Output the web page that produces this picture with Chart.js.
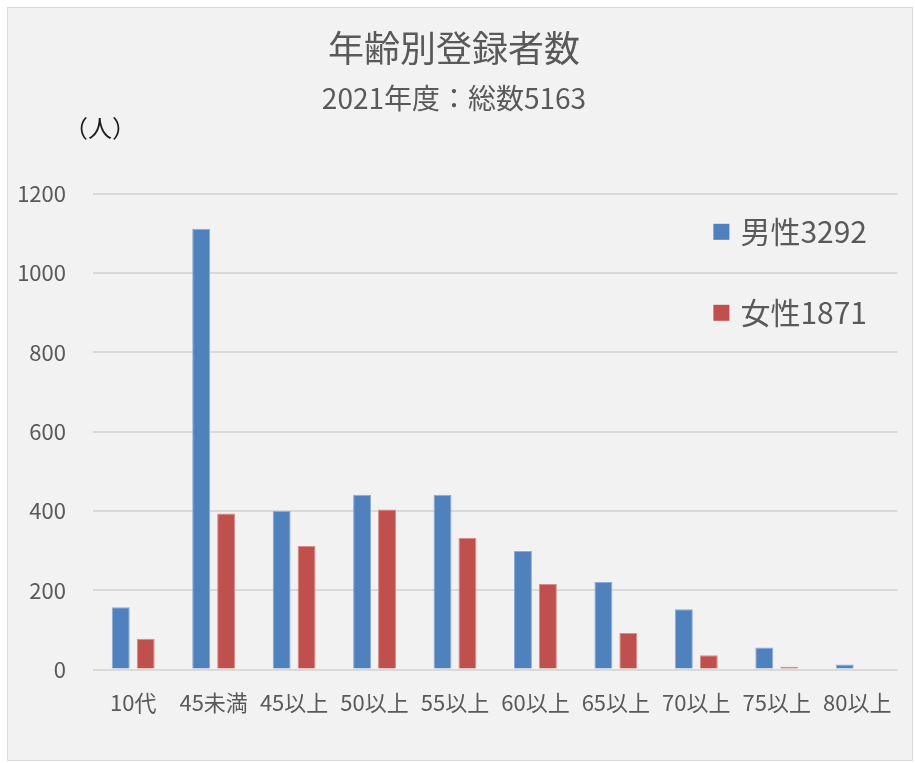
<!DOCTYPE html>
<html lang="ja">
<head>
<meta charset="utf-8">
<title>年齢別登録者数</title>
<script src="https://cdn.jsdelivr.net/npm/chart.js@4.4.1/dist/chart.umd.min.js"></script>
<style>
  html, body { margin: 0; padding: 0; background: #fff; }
  #box {
    position: absolute; left: 7px; top: 7px;
    width: 904px; height: 752px;
    background: #f2f2f2; border: 1px solid #d9d9d9;
  }
  #box canvas { display: block; }
</style>
</head>
<body>
<div id="box"><canvas id="bar" width="904" height="752"></canvas></div>
<script>
"use strict";
// data
var ageGroups = ["10代", "45未満", "45以上", "50以上", "55以上", "60以上", "65以上", "70以上", "75以上", "80以上"];
var maleCounts = [157, 1112, 400, 441, 441, 299, 221, 152, 56, 13];
var femaleCounts = [78, 394, 312, 404, 332, 216, 92, 36, 7, 0];
var seriesNames = ["男性3292", "女性1871"];
var yTicks = [0, 200, 400, 600, 800, 1000, 1200];
var titleText = "年齢別登録者数";
var subtitleText = "2021年度：総数5163";
var unitText = "（人）";

var FONT = '"Noto Sans CJK JP", "Noto Sans", sans-serif';
var GREY = "#595959";

// legend drawn inside plot area, like the original
var innerLegend = {
    id: "innerLegend",
    afterDraw: function (chart) {
        var ctx = chart.ctx, area = chart.chartArea;
        var x = area.right - 184;
        var rows = [area.top + 38, area.top + 119];
        ctx.save();
        ctx.font = "30px " + FONT;
        ctx.textBaseline = "middle";
        ctx.textAlign = "left";
        chart.data.datasets.forEach(function (ds, i) {
            var y = rows[i];
            ctx.fillStyle = ds.backgroundColor;
            ctx.fillRect(x, y - 8, 16, 16);
            ctx.fillStyle = GREY;
            ctx.fillText(ds.label, x + 27, y);
        });
        // unit label above the y axis
        ctx.font = "24px " + FONT;
        ctx.fillStyle = "#1a1a1a";
        ctx.fillText(unitText, 56, 120);
        ctx.restore();
    }
};

var isbarchart = document.getElementById("bar");
var barChart = new Chart(isbarchart, {
    type: "bar",
    data: {
        labels: ageGroups,
        datasets: [{
            label: seriesNames[0],
            data: maleCounts,
            backgroundColor: "#4f81bd",
            borderColor: "#8eaad6",
            borderWidth: 1,
            categoryPercentage: 0.62,
            barPercentage: 0.72
        }, {
            label: seriesNames[1],
            data: femaleCounts,
            backgroundColor: "#c0504d",
            borderColor: "#d98c8a",
            borderWidth: 1,
            categoryPercentage: 0.62,
            barPercentage: 0.72
        }]
    },
    options: {
        responsive: false,
        animation: false,
        layout: { padding: { left: 0, right: 12, top: 0, bottom: 24 } },
        plugins: {
            legend: { display: false },
            tooltip: { enabled: false },
            title: {
                display: true,
                text: titleText,
                color: GREY,
                font: { family: FONT, size: 36, weight: "normal" },
                padding: { top: 19, bottom: 11 }
            },
            subtitle: {
                display: true,
                text: subtitleText,
                color: GREY,
                font: { family: FONT, size: 28, weight: "normal" },
                padding: { top: 0, bottom: 79 }
            }
        },
        scales: {
            x: {
                grid: { display: false, drawTicks: false },
                border: { display: false },
                ticks: {
                    color: GREY,
                    font: { family: FONT, size: 22 },
                    padding: 20,
                    maxRotation: 0,
                    autoSkip: false
                }
            },
            y: {
                min: 0,
                max: 1200,
                afterFit: function (s) { s.width = 85; },
                afterBuildTicks: function (s) {
                    s.ticks = yTicks.map(function (v) { return { value: v }; });
                },
                grid: { color: "#d9d9d9", lineWidth: 2, drawTicks: false },
                border: { display: false },
                ticks: {
                    color: GREY,
                    font: { family: FONT, size: 22 },
                    padding: 27,
                    callback: function (v) { return String(v); }
                }
            }
        }
    },
    plugins: [innerLegend]
});
</script>
</body>
</html>
